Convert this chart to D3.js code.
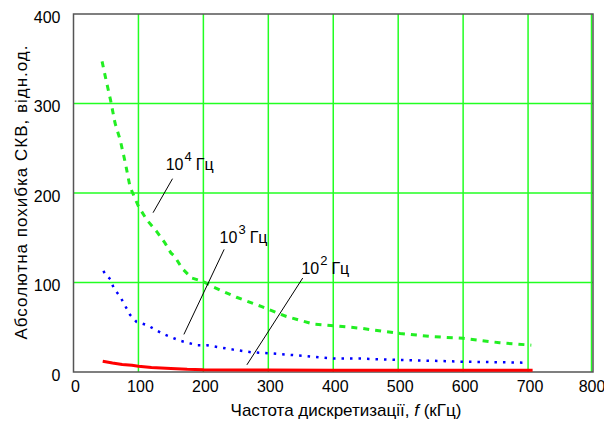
<!DOCTYPE html>
<html><head><meta charset="utf-8">
<script src="https://cdn.jsdelivr.net/npm/d3@7"></script>
<style>
html,body{margin:0;padding:0;background:#fff;}
svg{display:block;}
text{font-family:"Liberation Sans","Arial",sans-serif;fill:#000;}
</style></head>
<body>
<script>
// ---- data ----
const xTicks = [0,100,200,300,400,500,600,700,800];
const yTicks = [0,100,200,300,400];

const f1e4 = [44, 49, 57, 64, 72, 80, 87, 100, 113, 128, 141, 150, 156, 167, 182, 200, 215, 251, 290, 328, 369, 400, 441, 503, 554, 600, 656, 705];
const e1e4 = [347, 330, 304, 278, 259, 233, 207, 185, 170, 157, 144, 133, 129, 116, 105, 101, 95, 83.5, 73, 62, 53.6, 51.7, 49, 43, 39.5, 37.6, 32.7, 30];

const f1e3 = [46, 50, 57, 62, 72, 87, 97, 113, 138, 164, 190, 205, 246, 274, 300, 354, 400, 441, 503, 554, 600, 650, 697];
const e1e3 = [113, 108, 103.6, 93.5, 84, 64, 56, 52.5, 42.5, 35, 30, 30, 25, 22, 21, 18, 15, 15, 13.4, 12.5, 11.5, 11, 10.4];

const f1e2 = [45, 60, 75, 90, 100, 120, 150, 175, 200, 300, 400, 500, 600, 707];
const e1e2 = [12, 10, 8.5, 7.5, 6.5, 5, 4, 3, 2.5, 2.2, 2, 2, 2, 2];

const labelExp = ["4", "3", "2"];
const labelUnit = "Гц";
const xTitle = "Частота дискретизації, ";
const xTitleVar = "f";
const xTitleUnit = " (кГц)";
const yTitle = "Абсолютна  похибка СКВ, відн.од.";

// ---- layout ----
const W = 604, H = 423;
const L = 73.5, R = 593, T = 14, B = 372;

const svg = d3.select("body").append("svg").attr("width", W).attr("height", H);
const x = d3.scaleLinear().domain([0, 800]).range([L, R]);
const y = d3.scaleLinear().domain([0, 400]).range([B, T]);

// grid
const grid = svg.append("g");
grid.selectAll("line.v").data(xTicks.filter(d => d > 0)).join("line")
  .attr("x1", d => x(d) - (d === 800 ? 1.5 : 0)).attr("x2", d => x(d) - (d === 800 ? 1.5 : 0))
  .attr("y1", T).attr("y2", B)
  .attr("stroke", "#22ff22").attr("stroke-width", 1.5);
grid.selectAll("line.h").data(yTicks.filter(d => d > 0 && d < 400)).join("line")
  .attr("x1", L).attr("x2", R).attr("y1", d => y(d)).attr("y2", d => y(d))
  .attr("stroke", "#22ff22").attr("stroke-width", 1.5);

// frame
svg.append("rect").attr("x", L).attr("y", T).attr("width", R - L).attr("height", B - T)
  .attr("fill", "none").attr("stroke", "#555").attr("stroke-width", 1.5);

// axes (labels only)
const ax = svg.append("g").attr("transform", `translate(0,${B + 6})`)
  .call(d3.axisBottom(x).tickValues(xTicks).tickSize(0).tickFormat(d3.format("d")));
ax.select(".domain").remove();
ax.selectAll("text").attr("font-size", 16).attr("dx", d => d === 800 ? -1.5 : 1.5)
  .style("font-family", '"Liberation Sans",Arial,sans-serif');

const ay = svg.append("g").attr("transform", `translate(${L - 10},0)`)
  .call(d3.axisLeft(y).tickValues(yTicks).tickSize(0).tickFormat(d3.format("d")));
ay.select(".domain").remove();
ay.selectAll("text").attr("font-size", 16).attr("dy", "0.5em")
  .style("font-family", '"Liberation Sans",Arial,sans-serif');

// series
const line = d3.line().x(d => x(d[0])).y(d => y(d[1]));
const zip = (a, b) => a.map((v, i) => [v, b[i]]);

svg.append("path").datum(zip(f1e2, e1e2)).attr("d", line)
  .attr("fill", "none").attr("stroke", "#ff0000").attr("stroke-width", 3);
svg.append("path").datum(zip(f1e3, e1e3)).attr("d", line)
  .attr("fill", "none").attr("stroke", "#0000ff").attr("stroke-width", 2.5)
  .attr("stroke-dasharray", "2.5,6");
svg.append("path").datum(zip(f1e4, e1e4)).attr("d", line)
  .attr("fill", "none").attr("stroke", "#22ee22").attr("stroke-width", 3)
  .attr("stroke-dasharray", "6,6");

// annotations (positions in data units)
const annos = [
  {exp: labelExp[0], tx: 142, ty: 226, lx1: 152.5, ly1: 216, lx2: 122.5, ly2: 178},
  {exp: labelExp[1], tx: 225, ty: 144, lx1: 232, ly1: 137, lx2: 170, ly2: 42},
  {exp: labelExp[2], tx: 351, ty: 110, lx1: 353, ly1: 105, lx2: 267, ly2: 8},
];
annos.forEach(a => {
  svg.append("line").attr("x1", x(a.lx1)).attr("y1", y(a.ly1)).attr("x2", x(a.lx2)).attr("y2", y(a.ly2))
    .attr("stroke", "#000").attr("stroke-width", 1);
  const t = svg.append("text").attr("x", x(a.tx)).attr("y", y(a.ty)).attr("font-size", 16);
  t.append("tspan").text("10");
  t.append("tspan").attr("dy", -9).attr("font-size", 13).attr("dx", 1).text(a.exp);
  t.append("tspan").attr("dy", 9).attr("dx", 4).text(labelUnit);
});

// titles
const xt = svg.append("text").attr("x", 346).attr("y", 416).attr("text-anchor", "middle").attr("font-size", 17);
xt.append("tspan").text(xTitle);
xt.append("tspan").attr("font-style", "italic").text(xTitleVar);
xt.append("tspan").text(xTitleUnit);

svg.append("text").attr("transform", "translate(27,192) rotate(-90)")
  .attr("text-anchor", "middle").attr("font-size", 17).attr("letter-spacing", 1).text(yTitle);
</script>
</body></html>
